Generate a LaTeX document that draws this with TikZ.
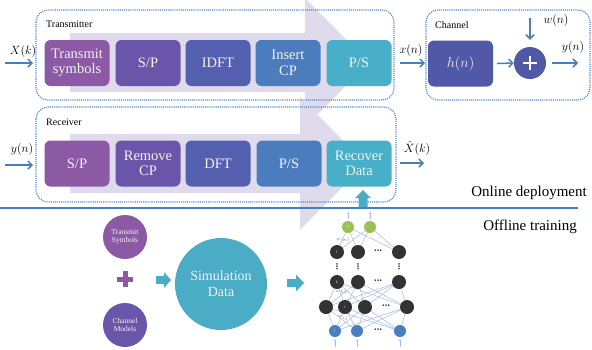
\documentclass[tikz,border=0pt]{standalone}
\usepackage{fontspec}
\setmainfont{Liberation Serif}
\newfontfamily\djv{DejaVu Sans}
\usetikzlibrary{arrows.meta}
\definecolor{cA}{HTML}{8C5AA5}
\definecolor{cB}{HTML}{6955AA}
\definecolor{cC}{HTML}{555FAF}
\definecolor{cD}{HTML}{4B7DBE}
\definecolor{cE}{HTML}{48AFC8}
\definecolor{cH}{HTML}{5158A8}
\definecolor{lav}{HTML}{DFDAEC}
\definecolor{dotc}{HTML}{4F86C6}
\definecolor{arrc}{HTML}{4A7EBB}
\definecolor{teal}{HTML}{4BACC6}
\definecolor{edgec}{HTML}{A3BDE0}
\definecolor{nnblk}{HTML}{333333}
\definecolor{nngrn}{HTML}{9BC153}
\definecolor{nnblu}{HTML}{4A7EC0}
\pgfdeclarelayer{bg}
\pgfdeclarelayer{edges}
\pgfsetlayers{bg,edges,main}
\begin{document}
\begin{tikzpicture}[x=1pt,y=-1pt,
  blk/.style={rounded corners=6pt, minimum width=65pt, minimum height=46pt, text=white!90!gray,
    font=\fontsize{14.5}{15.5}\selectfont, align=center, inner sep=0pt},
  dotbox/.style={draw=dotc, densely dotted, line width=1.1pt, rounded corners=12pt},
  arr/.style={draw=arrc, line width=1.5pt, -{Straight Barb[length=4pt,width=8pt]}},
  lbl/.style={font=\fontsize{12}{12}\selectfont, inner sep=0pt},
  sec/.style={font=\fontsize{10}{10}\selectfont, anchor=west, inner sep=0pt},
  big/.style={font=\fontsize{15}{15}\selectfont, inner sep=0pt},
  smallc/.style={circle, minimum size=44pt, inner sep=0pt, text=white!90!gray, align=center,
    font=\fontsize{7.5}{8.5}\selectfont},
  nn/.style={circle, minimum size=#1, inner sep=0pt, text=white!80!gray, font=\fontsize{4}{4}\selectfont},
  nnb/.style={nn=14pt, fill=nnblk},
  nne/.style={draw=edgec, line width=0.5pt},
  nna/.style={draw=edgec, line width=0.5pt, -{Stealth[length=2pt,width=2pt]}},
  wl/.style={font=\fontsize{4}{4}\selectfont, text=gray, inner sep=0pt},
  dt/.style={font=\djv\fontsize{8}{8}\selectfont\bfseries, text=nnblk, inner sep=0pt}
]
\useasboundingbox (0,0) rectangle (592,349);
\begin{pgfonlayer}{bg}
\fill[white] (0,0) rectangle (592,349);
\end{pgfonlayer}
% faint big arrows
\fill[lav] (70,33) -- (305,33) -- (305,-2) -- (369,62.5) -- (305,127) -- (305,92) -- (70,92) -- cycle;
\fill[lav] (70,134) -- (300,134) -- (300,97) -- (366,163.5) -- (300,230) -- (300,193) -- (70,193) -- cycle;
% dotted boxes
\draw[dotbox] (36,10) rectangle (394,100);
\draw[dotbox] (36,107) rectangle (396,202);
\draw[dotbox] (426,10) rectangle (590,100);
\node[sec] (ttx) at (46,24) {Transmitter};
\node[sec] (trx) at (46,122) {Receiver};
\node[sec] (tch) at (435,25) {Channel};
% transmitter blocks
\node[blk, fill=cA] (ts) at (77,63) {Transmit\\symbols};
\node[blk, fill=cB] (sp1) at (148,63) {S/P};
\node[blk, fill=cC] (idft) at (218,63) {IDFT};
\node[blk, fill=cD] (icp) at (288,63) {Insert\\CP};
\node[blk, fill=cE] (ps1) at (359,63) {P/S};
% receiver blocks
\node[blk, fill=cA] (sp2) at (77,163.5) {S/P};
\node[blk, fill=cB] (rcp) at (148,163.5) {Remove\\CP};
\node[blk, fill=cC] (dft) at (218,163.5) {DFT};
\node[blk, fill=cD] (ps2) at (289,163.5) {P/S};
\node[blk, fill=cE] (rd) at (359,163.5) {Recover\\Data};
% channel
\node[blk, fill=cH, font=\fontsize{15}{15}\selectfont] (hn) at (460.5,63.5) {$h(n)$};
\node[circle, fill=cH, minimum size=32pt, inner sep=0pt] (plus) at (530,63) {};
\draw[white, line width=2.6pt] (523,63) -- (537,63) (530,56) -- (530,70);
% io labels and arrows
\node[lbl] (lxk) at (23,51) {$X(k)$};
\coordinate (xk1) at (5,63); \coordinate (xk2) at (33,63);
\draw[arr] (xk1) -- (xk2);
\node[lbl] (lyn) at (22,149) {$y(n)$};
\coordinate (yn1) at (5,165); \coordinate (yn2) at (33,165);
\draw[arr] (yn1) -- (yn2);
\node[lbl] (lxn) at (411,50) {$x(n)$};
\coordinate (xn1) at (400,63); \coordinate (xn2) at (425,63);
\draw[arr] (xn1) -- (xn2);
\draw[arr] ([xshift=4pt]hn.east) -- (plus.west);
\node[lbl] (lwn) at (556,20) {$w(n)$};
\coordinate (wn1) at (530,18);
\draw[arr] (wn1) -- ([yshift=7pt]plus.north);
\node[lbl] (lyo) at (573,47) {$y(n)$};
\coordinate (yo2) at (578,63);
\draw[arr] ([xshift=6pt]plus.east) -- (yo2);
\node[lbl] (lxh) at (417,148) {$\hat{X}(k)$};
\coordinate (xh1) at (400,163); \coordinate (xh2) at (424,163);
\draw[arr] (xh1) -- (xh2);
% separator
\draw[draw=arrc, line width=1.8pt] (0,208) -- (578,208);
\node[big, anchor=east] (onl) at (587,193) {Online deployment};
\node[big, anchor=east] (ofl) at (577,227) {Offline training};
% teal up arrow
\fill[teal] (358.5,207) -- (367.5,207) -- (367.5,198) -- (371,198) -- (363,190) -- (355,198) -- (358.5,198) -- cycle;
% offline: inputs
\node[smallc, fill=cA] (tsym) at (125,237) {Transmit\\Symbols};
\node[smallc, fill=cB] (chm) at (125,325) {Channel\\Models};
\fill[cA] (117,276.5) rectangle (133,281.5);
\fill[cA] (122.5,271) rectangle (127.5,287);
\fill[teal] (156,276) -- (164,276) -- (164,272) -- (171,280) -- (164,288) -- (164,284) -- (156,284) -- cycle;
\node[circle, fill=teal, minimum size=92pt, inner sep=0pt, text=white!90!gray, align=center,
  font=\fontsize{14}{16}\selectfont] (sim) at (221,284) {Simulation\\Data};
\fill[teal] (287,279) -- (296,279) -- (296,274.5) -- (304,283) -- (296,291.5) -- (296,287) -- (287,287) -- cycle;
% neural network
\node[nn=12pt, fill=nngrn] (o1) at (348,227) {m};
\node[nn=12pt, fill=nngrn] (o2) at (370,227) {};
\node[nnb] (l1) at (337,252) {l};
\node[nnb] (l2) at (358,252) {};
\node[nnb] (l3) at (399,252) {};
\node[nnb] (k1) at (337,282) {k};
\node[nnb] (k2) at (358,282) {};
\node[nnb] (k3) at (399,282) {};
\node[nnb] (h1) at (326,307) {};
\node[nnb] (h2) at (345,307) {i};
\node[nnb] (h3) at (365,307) {};
\node[nnb] (h4) at (407,307) {};
\node[nn=12pt, fill=nnblu] (i1) at (335,331) {j};
\node[nn=12pt, fill=nnblu] (i2) at (357,331) {};
\node[nn=12pt, fill=nnblu] (i3) at (400,331) {};
\begin{pgfonlayer}{edges}
\foreach \a in {o1,o2} \foreach \b in {l1,l2,l3} \draw[nne] (\a.center) -- (\b.center);
\foreach \a in {k1,k2,k3} \foreach \b in {h1,h2,h3,h4} \draw[nne] (\a.center) -- (\b.center);
\foreach \a in {h1,h2,h3,h4} \foreach \b in {i1,i2,i3} \draw[nne] (\a.center) -- (\b.center);
\end{pgfonlayer}
\foreach \a in {o1,o2} \draw[nna] ([yshift=2pt]\a.north) -- ([yshift=9pt]\a.north);
\foreach \a in {i1,i2,i3} \draw[nna] ([yshift=-10pt]\a.south) -- ([yshift=-2pt]\a.south);
\node[wl] (w1) at (343,240) {$w_{ml}$};
\node[wl] (w2) at (341,292) {$w_{ki}$};
\node[wl] (w3) at (343,318) {$w_{ij}$};
\node[dt] (d1) at (378,252) {⋯};
\node[dt] (d2) at (378,282) {⋯};
\node[dt] (d3) at (386,307) {⋯};
\node[dt] (d4) at (378,331) {⋯};
\node[dt] (v1) at (337,267) {⋮};
\node[dt] (v2) at (358,267) {⋮};
\node[dt] (v3) at (399,267) {⋮};
\end{tikzpicture}
\end{document}
